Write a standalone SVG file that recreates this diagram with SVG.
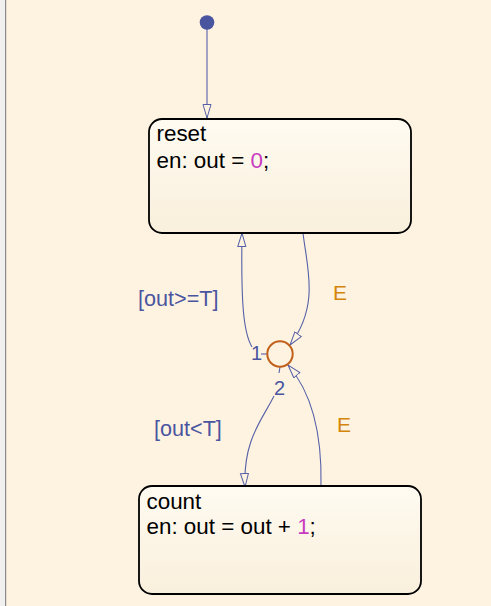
<svg xmlns="http://www.w3.org/2000/svg" width="491" height="606" viewBox="0 0 491 606">
<style>
.state{stroke:#000;stroke-width:1.8;fill:url(#sg)}
.t{font-family:"Liberation Sans",Arial,sans-serif;font-size:22.4px;fill:#000}
.num{fill:#c83cc0}
.lbl{font-family:"Liberation Sans",Arial,sans-serif;font-size:21.6px;fill:#4a55a0}
.ev{font-family:"Liberation Sans",Arial,sans-serif;font-size:21px;fill:#d4860a}
.ord{font-family:"Liberation Sans",Arial,sans-serif;font-size:20px;fill:#4a55a0}
.c{fill:none;stroke:#5560a8;stroke-width:1.1}
.ca{fill:none;stroke:#5560a8;stroke-width:1.1;marker-end:url(#ah)}
</style>
<defs>
<linearGradient id="sg" x1="0" y1="0" x2="0" y2="1">
<stop offset="0" stop-color="#fffbf1"/>
<stop offset="1" stop-color="#f9efdc"/>
</linearGradient>
<marker id="ah" markerUnits="userSpaceOnUse" markerWidth="16" markerHeight="10" refX="14" refY="4.5" orient="auto">
<path d="M0.5,0.5 L14,4.5 L0.5,8.5 Z" fill="#fef3e0" stroke="#5560a8" stroke-width="1"/>
</marker>
</defs>
<rect x="0" y="0" width="491" height="606" fill="#fef3e0"/>
<rect x="0" y="0" width="5" height="606" fill="#f0f0f0"/>
<rect x="5" y="0" width="1.2" height="606" fill="#8a8a8a"/>

<g id="connectors">
<path class="ca" d="M207,29 L207,118"/>
<path class="c" d="M261,354 L267,354"/>
<path class="ca" d="M252,347 C243,332 241,300 242,233"/>
<path class="ca" d="M303,233 C307,268 320,305 290,345"/>
<path class="ca" d="M321,486 C322,440 314,395 288,365"/>
<path class="c" d="M280,367 L279,373"/>
<path class="ca" d="M274,396 C262,420 243,440 245,487"/>
</g>

<g id="init"><circle cx="207" cy="22.5" r="7.3" fill="#4a55a0"/></g>

<g id="reset">
<rect class="state" x="149" y="119" width="262" height="114" rx="13"/>
<text class="t" x="156.5" y="141">reset</text>
<text class="t" x="156.5" y="167.5">en: out = <tspan class="num">0</tspan>;</text>
</g>

<g id="junction"><circle cx="280" cy="354" r="12.7" fill="#fef3e0" stroke="#c0601a" stroke-width="2"/></g>

<g id="count">
<rect class="state" x="139" y="486" width="282" height="108" rx="13"/>
<text class="t" x="146.5" y="509">count</text>
<text class="t" x="146.5" y="534">en: out = out + <tspan class="num">1</tspan>;</text>
</g>

<g id="labels">
<text class="lbl" x="138" y="306">[out&gt;=T]</text>
<text class="ev" x="333" y="300">E</text>
<text class="ord" x="251" y="360">1</text>
<text class="ord" x="274" y="395">2</text>
<text class="lbl" x="154" y="436">[out&lt;T]</text>
<text class="ev" x="337" y="432">E</text>
</g>
</svg>
